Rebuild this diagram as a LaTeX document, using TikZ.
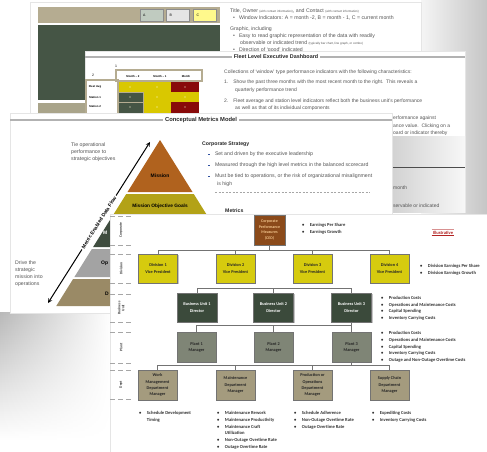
\documentclass[tikz,border=0pt]{standalone}
\usepackage{fontspec}
\setmainfont{Liberation Sans}
\newfontfamily\calfont{Carlito}
\usetikzlibrary{shadows,fadings,calc}

\definecolor{tanbar}{HTML}{B5AC91}
\definecolor{tanpanel}{HTML}{A9A48A}
\definecolor{dkgreen}{HTML}{455545}
\definecolor{ylw}{HTML}{D9C800}
\definecolor{dkred}{HTML}{880A0A}
\definecolor{txtgray}{HTML}{555555}
\definecolor{ceobrown}{HTML}{8B4A1A}
\definecolor{ceotext}{HTML}{F2C48C}
\definecolor{divyellow}{HTML}{D6CB0E}
\definecolor{bugreen}{HTML}{3B4A3B}
\definecolor{plantgray}{HTML}{7F8576}
\definecolor{depttan}{HTML}{A49B7E}
\definecolor{missionbrown}{HTML}{B0621E}
\definecolor{goalolive}{HTML}{B3A217}
\definecolor{layergreen}{HTML}{3F4D3F}
\definecolor{layergray}{HTML}{A3A3A3}
\definecolor{layertan}{HTML}{9A8A66}
\definecolor{bulletblue}{HTML}{3050A0}
\definecolor{illred}{HTML}{B22222}

\newcommand{\blt}{\textbullet}
\newcommand{\sq}{\raisebox{0.5pt}{\textcolor{bulletblue}{\rule{1.3pt}{1.3pt}}}}

\tikzset{
  slide/.style={fill=white, draw=gray!20, line width=0.3pt},
  body/.style={anchor=west, inner sep=0pt, text=txtgray, font=\fontsize{5.2}{6}\selectfont},
  stitle/.style={inner sep=2pt, text=black!85, font=\bfseries\fontsize{5.4}{6}\selectfont},
  cell/.style={font=\bfseries\fontsize{2.8}{3}\selectfont, inner sep=0pt},
  winbox/.style={draw=black!45, line width=0.6pt, minimum width=23, minimum height=12, inner sep=1pt,
    text width=17pt, align=left, font=\fontsize{3.5}{4}\selectfont},
  orgbox/.style={draw=black!55, line width=0.4pt, minimum width=39, minimum height=29, inner sep=0.5pt,
    align=center, font=\calfont\bfseries\fontsize{4.3}{6.2}\selectfont,
    drop shadow={shadow xshift=1.2pt, shadow yshift=-1.2pt, opacity=0.45}},
  conn/.style={draw=black!55, line width=0.6pt},
  lvl/.style={rotate=90, align=center, inner sep=0pt, text=black!80, font=\calfont\bfseries\fontsize{3.6}{4}\selectfont},
  lvldash/.style={gray!70, line width=0.8pt, dash pattern=on 5pt off 3pt},
  blist/.style={anchor=north west, inner sep=0pt, text=black!80, font=\calfont\bfseries\fontsize{4.6}{6.7}\selectfont},
  pyr/.style={inner sep=0pt, font=\bfseries\fontsize{5}{6}\selectfont}
}

\begin{document}
\begin{tikzpicture}[x=1pt,y=-1pt]
\useasboundingbox (0,0) rectangle (487,452);
% shadows behind the stack
\shade[left color=gray!8, right color=gray!45] (421,0) rectangle (487,214);
\shade[top color=gray!55, bottom color=white, path fading=east] (0,313) rectangle (112,440);

% slide 1 (back)
\path[slide] (30,2) rectangle (421,120);
\fill[tanbar] (38,7) rectangle (220,23);
\node[winbox, fill=green!10!gray!45] (wa) at (151.5,15) {A};
\node[winbox, fill=gray!20] (wb) at (178,15) {B};
\node[winbox, fill=yellow!45] (wc) at (205,15) {C};
\fill[dkgreen] (38,25) rectangle (220,100);
\fill[tanpanel] (38,103) rectangle (220,120);
\node[body] (own) at (230,11) {Title, Owner {\fontsize{3}{3}\selectfont(with contact information)}, and Contact {\fontsize{3}{3}\selectfont(with contact information)}};
\node[body] (win) at (233,18) {\blt\hspace{4pt}Window Indicators: A = month -2, B = month - 1, C = current month};
\node[body] (gra) at (230,29) {Graphic, including};
\node[body] (easy) at (233,36) {\blt\hspace{4pt}Easy to read graphic representation of the data with readily};
\node[body] (obs) at (240,43) {observable or indicated trend {\fontsize{3}{3}\selectfont(typically bar chart, line graph, or combo)}};
\node[body] (dir) at (233,50) {\blt\hspace{4pt}Direction of `good' indicated};

% slide 2
\path[slide] (85,51) rectangle (465,212);
\draw[gray!60, line width=1.2pt] (85,57) -- (465,57);
\node[stitle, fill=white] (fleet) at (276,57) {Fleet Level Executive Dashboard};
\node[cell, font=\fontsize{3.5}{4}\selectfont] (one) at (116,66) {1};
\node[cell, font=\fontsize{3.5}{4}\selectfont] (two) at (93,75) {2};
\fill[ylw] (118,82) rectangle (199,116);
\fill[dkred] (171,82) rectangle (199,92);
\fill[dkred] (171,102) rectangle (199,116);
\filldraw[fill=dkgreen, draw=tanbar, line width=0.6pt] (118,92) rectangle (143,102);
\filldraw[fill=dkgreen, draw=tanbar, line width=0.6pt] (118,102) rectangle (143,116);
\foreach \cx in {130,157,185}
  \foreach \cy in {87,97,107}
    \fill[white!85!yellow] (\cx,\cy) circle (0.6);
\draw[tanbar, line width=1.2pt, fill=white] (116,70) rectangle (202,81);
\node[cell] (m2) at (133,76) {Month -- 2};
\node[cell] (m1) at (160,76) {Month -- 1};
\node[cell] (m0) at (186,76) {Month};
\draw[tanbar, line width=1.2pt] (86,80) rectangle (118,118);
\node[cell] (favg) at (95,87) {Fleet Avg};
\node[cell] (st1) at (95,97) {Station 1};
\node[cell] (st2) at (95,106) {Station 2};
\node[body, font=\fontsize{5}{6}\selectfont] (coll) at (224,72) {Collections of `window' type performance indicators with the following characteristics:};
\node[body, font=\fontsize{5}{6}\selectfont] (p1) at (224,82) {1.\hspace{5pt}Show the past three months with the most recent month to the right.\ \ This reveals a};
\node[body, font=\fontsize{5}{6}\selectfont] (p1b) at (235,90) {quarterly performance trend};
\node[body, font=\fontsize{5}{6}\selectfont] (p2) at (224,101) {2.\hspace{5pt}Fleet average and station level indicators reflect both the business unit's performance};
\node[body, font=\fontsize{5}{6}\selectfont] (p2b) at (235,108) {as well as that of its individual components};
\node[body, font=\fontsize{5}{6}\selectfont] (p3a) at (393,118) {erformance against};
\node[body, font=\fontsize{5}{6}\selectfont] (p3b) at (393,126) {ance value.\ \ Clicking on a};
\node[body, font=\fontsize{5}{6}\selectfont] (p3c) at (393,133) {oard or indicator thereby};
\shade[left color=gray!35, right color=gray!6] (392,136) rectangle (465,212);
\draw[gray!60!black, line width=1pt] (392,167) -- (465,167);
\node[body, font=\fontsize{5}{6}\selectfont] (mon) at (393,188) {month};
\node[body, font=\fontsize{5}{6}\selectfont] (serv) at (393,206) {servable or indicated};

% slide 3
\path[slide] (10,113) rectangle (392,313);
\draw[gray!60, line width=1.2pt] (10,120) -- (392,120);
\node[stitle, fill=white, font=\bfseries\fontsize{5.8}{6}\selectfont] (cmm) at (201,120) {Conceptual Metrics Model};
\fill[missionbrown] (160,140) -- (192.5,192) -- (127.5,192) -- cycle;
\fill[goalolive] (126.25,194) -- (193.75,194) -- (207.5,216) -- (112.5,216) -- cycle;
\fill[layergreen] (111.25,218) -- (208.75,218) -- (226.9,247) -- (93.1,247) -- cycle;
\fill[layergray] (91.9,249) -- (228.1,249) -- (245.6,277) -- (74.4,277) -- cycle;
\fill[layertan] (73.1,279) -- (246.9,279) -- (263.75,306) -- (56.25,306) -- cycle;
\node[pyr] (mis) at (160,176) {Mission};
\node[pyr, font=\bfseries\fontsize{4.8}{6}\selectfont] (mog) at (160,206) {Mission Objective Goals};
\node[pyr, anchor=west, text=white] (lm) at (103,233) {M};
\node[pyr, anchor=west] (lop) at (101,263) {Op};
\node[pyr, anchor=west] (ld) at (105,294) {D};
\coordinate (flowlo) at (48,303);
\coordinate (flowhi) at (150,142);
\draw[<->, >=stealth, line width=1pt] (flowlo) -- node[sloped, fill=white, inner sep=1.5pt, font=\bfseries\fontsize{5}{6}\selectfont] {Metric Enabled Data Flow} (flowhi);
\node[body, anchor=north west, align=left, font=\fontsize{5.2}{7}\selectfont] (tie) at (71,143) {Tie operational\\performance to\\strategic objectives};
\node[body, anchor=north west, align=left, font=\fontsize{5.2}{7}\selectfont] (drv) at (15,261) {Drive the\\strategic\\mission into\\operations};
\node[body, text=black!85, font=\bfseries\fontsize{5.2}{6}\selectfont] (cs) at (202,144) {Corporate Strategy};
\node[body] (b1) at (208,154) {\sq\hspace{5.5pt}Set and driven by the executive leadership};
\node[body] (b2) at (208,165) {\sq\hspace{5.5pt}Measured through the high level metrics in the balanced scorecard};
\node[body] (b3) at (208,176) {\sq\hspace{5.5pt}Must be tied to operations, or the risk of organizational misalignment};
\node[body] (b3b) at (217,184) {is high};
\draw[gray!70, dash pattern=on 2pt off 1.5pt, line width=0.5pt] (215,192) -- (370,192);
\node[body, text=black!85, font=\bfseries\fontsize{5.2}{6}\selectfont] (met) at (225,211) {Metrics};

% slide 4 (front)
\path[slide] (110,214) rectangle (487,452);
\foreach \yy in {216,245,254,283,294,322,332,363,370,399}
  \draw[lvldash] (110,\yy) -- (133,\yy);
\node[lvl] (lcorp) at (121,230) {Corporate};
\node[lvl] (ldiv) at (121,268.5) {Division};
\node[lvl] (lbu) at (121,308) {Business\\Unit};
\node[lvl] (lplant) at (121,347.5) {Plant};
\node[lvl] (ldept) at (121,384.5) {Dept};

\node[orgbox, fill=ceobrown, text=ceotext, minimum width=31, minimum height=30, font=\calfont\bfseries\fontsize{4}{5.8}\selectfont] (ceo) at (269.5,230) {Corporate\\Performance\\Measures\\(CEO)};
\node[orgbox, fill=divyellow, text=black!85] (div1) at (158,268.5) {Division 1\\Vice President};
\node[orgbox, fill=divyellow, text=black!85] (div2) at (235.5,268.5) {Division 2\\Vice President};
\node[orgbox, fill=divyellow, text=black!85] (div3) at (312.5,268.5) {Division 3\\Vice President};
\node[orgbox, fill=divyellow, text=black!85] (div4) at (389.5,268.5) {Division 4\\Vice President};
\node[orgbox, fill=bugreen, text=white!80, minimum width=40] (bu1) at (197,307.5) {Business Unit 1\\Director};
\node[orgbox, fill=bugreen, text=white!80, minimum width=40] (bu2) at (273.5,307.5) {Business Unit 2\\Director};
\node[orgbox, fill=bugreen, text=white!80, minimum width=40] (bu3) at (351.5,307.5) {Business Unit 3\\Director};
\node[orgbox, fill=plantgray, text=black!85, minimum height=30] (pl1) at (196.5,347) {Plant 1\\Manager};
\node[orgbox, fill=plantgray, text=black!85, minimum height=30] (pl2) at (273.5,347) {Plant 2\\Manager};
\node[orgbox, fill=plantgray, text=black!85, minimum height=30] (pl3) at (351.5,347) {Plant 3\\Manager};
\node[orgbox, fill=depttan, text=black!85, minimum height=30] (wm) at (157.5,385) {Work\\Management\\Department\\Manager};
\node[orgbox, fill=depttan, text=black!85, minimum height=30] (mnt) at (235.5,385) {Maintenance\\Department\\Manager};
\node[orgbox, fill=depttan, text=black!85, minimum height=30] (ops) at (312.5,385) {Production or\\Operations\\Department\\Manager};
\node[orgbox, fill=depttan, text=black!85, minimum height=30] (sc) at (389.5,385) {Supply Chain\\Department\\Manager};

\foreach \d in {div1,div2,div3,div4}
  \draw[conn] (ceo.south) -- ++(0,5.5) -| (\d.north);
\coordinate (bubar) at (0,288);
\draw[conn] (bu1.north |- bubar) -- (bu3.north |- bubar);
\foreach \b in {bu1,bu2,bu3}
  \draw[conn] (\b.north |- bubar) -- (\b.north);
\foreach \p in {pl1,pl2,pl3}
  \draw[conn] (bu3.south) -- ++(0,3) -| (\p.north);
\foreach \q in {wm,mnt,ops,sc}
  \draw[conn] (pl3.south) -- ++(0,3) -| (\q.north);

\node[blist] (ceol) at (302,222) {\begin{tabular}{@{}l@{\hspace{5.5pt}}l@{}}\blt & Earnings Per Share\\ \blt & Earnings Growth\end{tabular}};
\node[text=illred, inner sep=1pt, font=\calfont\bfseries\fontsize{4.6}{5}\selectfont] (ill) at (443,232.5) {Illustrative};
\draw[illred!50, line width=0.4pt] (ill.north west) -- (ill.north east);
\draw[illred, line width=0.6pt] (ill.south west) -- (ill.south east);
\node[blist] (divl) at (420,263) {\begin{tabular}{@{}l@{\hspace{5.5pt}}l@{}}\blt & Division Earnings Per Share\\ \blt & Division Earnings Growth\end{tabular}};
\node[blist] (bul) at (381,294.5) {\begin{tabular}{@{}l@{\hspace{5.5pt}}l@{}}\blt & Production Costs\\ \blt & Operations and Maintenance Costs\\ \blt & Capital Spending\\ \blt & Inventory Carrying Costs\end{tabular}};
\node[blist] (pll) at (381,330) {\begin{tabular}{@{}l@{\hspace{5.5pt}}l@{}}\blt & Production Costs\\ \blt & Operations and Maintenance Costs\\ \blt & Capital Spending\\ \blt & Inventory Carrying Costs\\ \blt & Outage and Non-Outage Overtime Costs\end{tabular}};
\node[blist] (wml) at (139,410) {\begin{tabular}{@{}l@{\hspace{5.5pt}}l@{}}\blt & Schedule Development\\ & Timing\end{tabular}};
\node[blist] (mntl) at (217,410) {\begin{tabular}{@{}l@{\hspace{5.5pt}}l@{}}\blt & Maintenance Rework\\ \blt & Maintenance Productivity\\ \blt & Maintenance Craft\\ & Utilization\\ \blt & Non-Outage Overtime Rate\\ \blt & Outage Overtime Rate\end{tabular}};
\node[blist] (opsl) at (294,410) {\begin{tabular}{@{}l@{\hspace{5.5pt}}l@{}}\blt & Schedule Adherence\\ \blt & Non-Outage Overtime Rate\\ \blt & Outage Overtime Rate\end{tabular}};
\node[blist] (scl) at (372,410) {\begin{tabular}{@{}l@{\hspace{5.5pt}}l@{}}\blt & Expediting Costs\\ \blt & Inventory Carrying Costs\end{tabular}};
\end{tikzpicture}
\end{document}
